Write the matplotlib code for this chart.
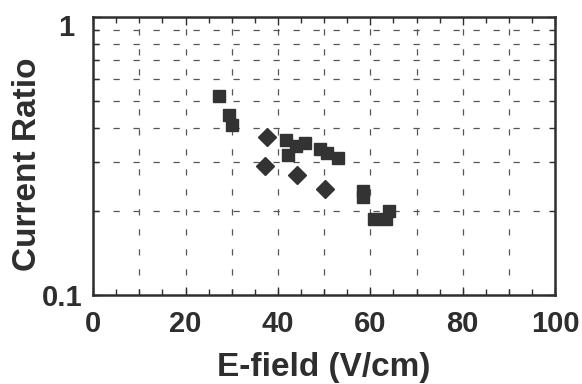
import numpy as np
import matplotlib
matplotlib.use("Agg")
from matplotlib import pyplot as plt
from matplotlib.ticker import FixedLocator, NullFormatter, MultipleLocator
from matplotlib.transforms import ScaledTranslation

# squares
sq_x = [27.2, 29.3, 30.0, 41.8, 42.2, 43.9, 45.9, 49.1, 50.6, 53.0, 58.3, 58.3, 60.8, 63.4, 64.1]
sq_y = [0.518, 0.444, 0.409, 0.361, 0.319, 0.344, 0.352, 0.335, 0.324, 0.311, 0.237, 0.225, 0.188, 0.188, 0.201]

# diamonds
dm_x = [37.6, 37.2, 44.1, 50.2]
dm_y = [0.371, 0.291, 0.269, 0.240]

xticks = [0, 20, 40, 60, 80, 100]
yticks = [0.1, 1]
ytick_labels = ["0.1", "1"]

plt.rcParams['font.family'] = ['Liberation Sans', 'DejaVu Sans']
plt.rcParams['font.weight'] = 'bold'
ink = "#2e2e2e"

fig = plt.figure(figsize=(5.82, 3.84), dpi=100)
ax = fig.add_axes([0.160, 0.232, 0.794, 0.724])

ax.set_yscale("log")
ax.set_xlim(0, 100)
ax.set_ylim(0.1, 1)

# dashed grid
dash = (0, (5, 11))
for gx in range(10, 100, 10):
    ax.axvline(gx, color="#555555", lw=0.9, ls=dash, zorder=1)
for gy in np.arange(0.2, 0.95, 0.1):
    ax.axhline(gy, color="#555555", lw=0.9, ls=dash, zorder=1)

ax.plot(sq_x, sq_y, ls="none", marker="s", ms=8.5, color="#333333",
        mec="#333333", zorder=3)
ax.plot(dm_x, dm_y, ls="none", marker="D", ms=9, color="#333333",
        mec="#333333", zorder=3)

ax.xaxis.set_major_locator(FixedLocator(xticks))
ax.xaxis.set_minor_locator(MultipleLocator(5))
ax.yaxis.set_major_locator(FixedLocator(yticks))
ax.yaxis.set_minor_locator(FixedLocator(list(np.arange(0.2, 0.95, 0.1))))
ax.yaxis.set_minor_formatter(NullFormatter())
ax.set_yticklabels(ytick_labels)
ax.set_xticklabels([str(v) for v in xticks])

ax.tick_params(which="both", direction="in", top=True, right=True,
               colors=ink, labelsize=21, width=1)
ax.tick_params(which="major", length=6, pad=11)
ax.tick_params(which="minor", length=4)
ax.tick_params(axis="y", which="major", pad=8)

for s in ax.spines.values():
    s.set_linewidth(1.8)
    s.set_color(ink)

ax.set_xlabel("E-field (V/cm)", fontsize=24, fontweight="bold", color=ink, labelpad=10)
ax.set_ylabel("Current Ratio", fontsize=24, fontweight="bold", color=ink)
ax.yaxis.set_label_coords(-0.108, 0.47)

# the "1" sits a bit lower and further left in the original
lab = ax.yaxis.get_major_ticks()[1].label1
lab.set_transform(lab.get_transform() + ScaledTranslation(-0.08, -0.08, fig.dpi_scale_trans))

fig.savefig("out.png", dpi=100)
